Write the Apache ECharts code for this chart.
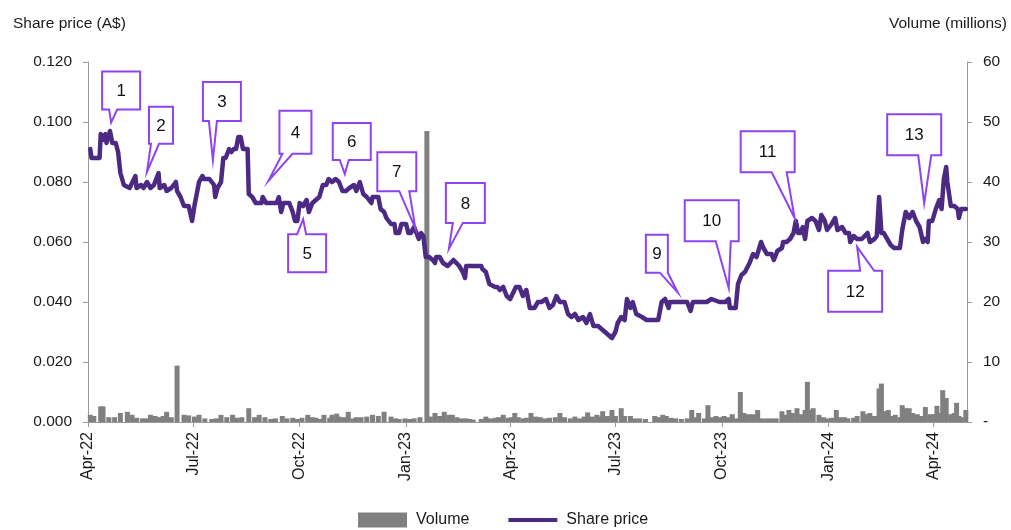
<!DOCTYPE html>
<html>
<head>
<meta charset="utf-8">
<script src="https://cdn.jsdelivr.net/npm/echarts@6/dist/echarts.min.js"></script>
<style>
  html, body { margin: 0; padding: 0; background: #ffffff; }
  #chart { width: 1011px; height: 530px; }
</style>
</head>
<body>
<div id="chart"></div>
<script>
// Trading history; the x axis counts calendar days from 1 Apr 2022

// Closing share price (A$)
const priceDay = [
  2, 3, 10, 11, 13, 15, 16, 19, 21, 24,
  26, 28, 31, 36, 41, 42, 46, 48, 51, 54,
  57, 61, 62, 66, 68, 72, 76, 77, 80, 83,
  87, 90, 92, 93, 96, 99, 100, 105, 109, 110,
  112, 115, 117, 119, 122, 124, 126, 128, 130, 132,
  134, 138, 139, 142, 145, 150, 151, 154, 158, 163,
  165, 167, 169, 174, 177, 179, 181, 183, 186, 189,
  191, 194, 197, 200, 203, 206, 208, 211, 214, 217,
  220, 223, 226, 230, 232, 235, 238, 241, 245, 246,
  251, 253, 256, 258, 262, 265, 266, 269, 271, 275,
  277, 279, 282, 284, 286, 288, 290, 292, 295, 298,
  300, 301, 304, 307, 311, 316, 317, 321, 324, 326,
  327, 331, 340, 341, 344, 347, 352, 354, 356, 359,
  362, 365, 370, 373, 376, 379, 382, 386, 389, 392,
  396, 399, 402, 405, 408, 412, 415, 418, 421, 424,
  428, 431, 434, 437, 441, 444, 447, 450, 453, 456,
  458, 461, 464, 466, 469, 471, 474, 479, 483, 493,
  496, 499, 502, 503, 506, 510, 515, 518, 521, 523,
  529, 535, 539, 546, 551, 554, 555, 560, 562, 565,
  568, 572, 575, 578, 582, 584, 587, 591, 593, 596,
  600, 601, 604, 607, 610, 612, 614, 616, 618, 620,
  622, 626, 629, 632, 634, 637, 639, 643, 646, 648,
  652, 655, 658, 659, 662, 665, 669, 674, 676, 680,
  682, 684, 686, 688, 691, 694, 697, 702, 704, 707,
  710, 713, 716, 719, 722, 724, 726, 727, 730, 733,
  736, 738, 740, 742, 743, 746, 749, 752, 753, 755,
  759
];
const priceValue = [
  0.091, 0.088, 0.088, 0.096, 0.094, 0.096, 0.093, 0.097, 0.093, 0.093,
  0.090, 0.083, 0.079, 0.078, 0.082, 0.078, 0.079, 0.078, 0.080, 0.078,
  0.079, 0.083, 0.078, 0.079, 0.077, 0.078, 0.080, 0.077, 0.075, 0.072,
  0.072, 0.067, 0.072, 0.072, 0.080, 0.082, 0.081, 0.081, 0.079, 0.075,
  0.078, 0.080, 0.088, 0.088, 0.091, 0.090, 0.091, 0.091, 0.095, 0.095,
  0.091, 0.091, 0.076, 0.075, 0.073, 0.073, 0.075, 0.073, 0.073, 0.073,
  0.075, 0.070, 0.073, 0.073, 0.070, 0.067, 0.067, 0.073, 0.072, 0.074,
  0.070, 0.073, 0.074, 0.075, 0.079, 0.079, 0.081, 0.080, 0.081, 0.080,
  0.077, 0.077, 0.078, 0.079, 0.077, 0.080, 0.076, 0.075, 0.073, 0.075,
  0.075, 0.071, 0.070, 0.068, 0.066, 0.066, 0.063, 0.063, 0.066, 0.066,
  0.063, 0.063, 0.065, 0.063, 0.061, 0.063, 0.062, 0.055, 0.055, 0.054,
  0.053, 0.055, 0.055, 0.053, 0.052, 0.054, 0.054, 0.052, 0.050, 0.048,
  0.052, 0.052, 0.052, 0.051, 0.050, 0.046, 0.045, 0.045, 0.044, 0.045,
  0.042, 0.041, 0.045, 0.045, 0.042, 0.044, 0.038, 0.038, 0.040, 0.040,
  0.041, 0.038, 0.039, 0.042, 0.040, 0.040, 0.036, 0.035, 0.036, 0.034,
  0.035, 0.033, 0.036, 0.032, 0.032, 0.031, 0.030, 0.029, 0.028, 0.030,
  0.033, 0.035, 0.034, 0.041, 0.038, 0.040, 0.036, 0.035, 0.034, 0.034,
  0.040, 0.041, 0.038, 0.040, 0.040, 0.040, 0.040, 0.040, 0.037, 0.040,
  0.040, 0.040, 0.041, 0.040, 0.040, 0.041, 0.038, 0.038, 0.046, 0.049,
  0.050, 0.053, 0.056, 0.055, 0.060, 0.058, 0.056, 0.056, 0.054, 0.057,
  0.058, 0.060, 0.060, 0.061, 0.063, 0.067, 0.063, 0.063, 0.065, 0.061,
  0.067, 0.068, 0.067, 0.064, 0.069, 0.067, 0.064, 0.066, 0.068, 0.064,
  0.065, 0.063, 0.063, 0.060, 0.062, 0.061, 0.061, 0.063, 0.060, 0.061,
  0.062, 0.075, 0.063, 0.063, 0.061, 0.059, 0.058, 0.058, 0.064, 0.070,
  0.068, 0.070, 0.067, 0.065, 0.060, 0.061, 0.060, 0.067, 0.067, 0.071,
  0.074, 0.071, 0.081, 0.085, 0.080, 0.072, 0.072, 0.071, 0.068, 0.071,
  0.071
];

// Daily volume (millions of shares)
const volumeDay = [
  2, 5, 11, 13, 18, 23, 28, 34, 38, 42,
  47, 50, 54, 58, 61, 65, 68, 72, 77, 83,
  87, 92, 96, 101, 107, 111, 115, 120, 125, 129,
  133, 139, 144, 148, 153, 158, 162, 168, 172, 177,
  181, 185, 190, 194, 197, 201, 204, 209, 211, 215,
  217, 221, 225, 229, 232, 236, 241, 246, 251, 256,
  262, 266, 269, 274, 278, 282, 287, 293, 296, 300,
  304, 308, 312, 315, 319, 323, 327, 330, 333, 340,
  344, 348, 352, 355, 359, 363, 366, 369, 372, 376,
  379, 383, 387, 391, 395, 399, 404, 408, 412, 417,
  421, 425, 429, 432, 436, 440, 443, 445, 449, 453,
  456, 461, 464, 469, 473, 477, 482, 490, 494, 497,
  500, 504, 508, 513, 518, 522, 525, 528, 533, 536,
  540, 543, 546, 550, 553, 557, 560, 564, 567, 571,
  575, 579, 583, 587, 591, 595, 600, 603, 606, 609,
  613, 617, 620, 622, 624, 627, 632, 636, 640, 643,
  647, 650, 654, 657, 662, 665, 670, 673, 676, 680,
  684, 686, 688, 692, 695, 698, 702, 704, 707, 710,
  713, 717, 720, 724, 728, 731, 734, 737, 739, 742,
  746, 749, 751, 753, 755, 759
];
const volumeValue = [
  1.2, 1.0, 2.6, 2.6, 0.8, 0.8, 1.5, 1.7, 1.2, 0.7,
  0.6, 0.6, 1.2, 1.0, 0.8, 1.0, 1.7, 0.8, 9.4, 1.2,
  1.1, 0.9, 1.2, 0.6, 0.5, 0.6, 1.2, 0.8, 1.2, 0.7,
  0.8, 2.3, 0.8, 1.2, 0.8, 0.5, 0.6, 1.0, 0.6, 0.7,
  0.5, 0.7, 1.2, 0.8, 0.7, 0.5, 1.2, 0.7, 1.2, 1.4,
  0.9, 0.8, 1.7, 0.6, 0.8, 0.8, 0.9, 1.2, 1.0, 1.7,
  0.9, 0.6, 0.5, 0.6, 0.5, 0.6, 0.8, 48.5, 0.9, 1.5,
  1.0, 1.7, 1.2, 1.2, 0.8, 0.6, 0.6, 0.5, 0.4, 0.5,
  0.9, 0.6, 0.7, 0.8, 1.2, 0.7, 0.8, 1.5, 0.8, 0.6,
  0.7, 1.5, 0.9, 0.8, 0.6, 0.7, 0.8, 1.5, 0.8, 0.6,
  0.9, 0.6, 0.9, 1.6, 0.9, 1.2, 0.9, 1.8, 1.0, 2.0,
  1.0, 2.3, 1.0, 1.0, 0.6, 0.6, 0.5, 1.0, 0.8, 1.2,
  1.0, 0.7, 0.6, 0.5, 0.6, 2.0, 0.8, 1.5, 0.6, 2.8,
  0.8, 1.0, 0.8, 1.0, 0.8, 1.3, 0.6, 5.0, 1.5, 1.3,
  1.3, 2.0, 0.6, 0.6, 0.6, 0.6, 1.8, 1.2, 2.0, 1.5,
  2.3, 1.3, 2.0, 6.7, 2.0, 2.3, 1.2, 0.8, 0.6, 0.7,
  2.0, 0.8, 0.8, 0.6, 0.7, 1.0, 1.8, 1.3, 1.5, 1.0,
  5.6, 6.4, 1.8, 2.0, 1.0, 1.2, 0.8, 2.8, 2.3, 2.3,
  1.5, 1.3, 1.0, 2.5, 1.3, 1.3, 2.7, 1.5, 5.3, 4.0,
  1.3, 1.5, 3.2, 1.0, 0.8, 2.0
];

// Numbered announcement markers and the point each one refers to
const calloutLabel = ['1', '2', '3', '4', '5', '6', '7', '8', '9', '10', '11', '12', '13'];
const calloutDay = [20, 51, 108, 156, 186, 222, 283, 312, 510, 554, 611, 665, 723];
const calloutPrice = [0.0998, 0.0834, 0.0873, 0.0804, 0.0676, 0.0827, 0.0646, 0.0577, 0.0431, 0.0446, 0.0679, 0.0584, 0.0729];

// Quarterly axis ticks (day offsets of the first of each quarter)
const tickDay = [0, 91, 183, 275, 365, 456, 548, 640, 731];
const tickLabels = ['Apr-22', 'Jul-22', 'Oct-22', 'Jan-23', 'Apr-23', 'Jul-23', 'Oct-23', 'Jan-24', 'Apr-24'];
const axisEndDay = 760;

const priceTicks = [0, 0.02, 0.04, 0.06, 0.08, 0.10, 0.12];
const volumeTicks = [0, 10, 20, 30, 40, 50, 60];

// Box geometry of each callout relative to its pointer tip, in px:
// [left, top, right, bottom, tailStart, tailEnd]
const calloutBox = [
  [-9, -51, 29, -13, -2, 6],
  [2, -65, 26, -28, 4, 12],
  [-10, -78, 28, -39, -4, 4],
  [11, -70, 43, -27, 14, 24],
  [-15, 15, 23, 53, -6, 3],
  [-12, -51, 26, -14, -5, 4],
  [-38, -76, 1, -37, -16, -6],
  [-3, -66, 36, -26, 4, 14],
  [-32, -58, -10, -20, -18, -10],
  [-44, -88, 10, -47, -13, 2],
  [-54, -87, 0, -46, -23, -8],
  [-29, 24, 25, 65, 3, 17],
  [-37, -89, 17, -48, -6, 7]
];

const FONT = '"Liberation Sans", Arial, sans-serif';
const PRICE_COLOR = '#4c2a83';

const priceData = priceDay.map((d, i) => [d, priceValue[i]]);
const volumeData = volumeDay.map((d, i) => [d, volumeValue[i]]);
const calloutData = calloutDay.map((d, i) => [d, calloutPrice[i]]);

function renderCallout(params, api) {
  const i = params.dataIndex;
  const tip = api.coord([api.value(0), api.value(1)]);
  const [l, t, r, b, a1, a2] = calloutBox[i];
  const tx = tip[0], ty = tip[1];
  const L = tx + l, R = tx + r, T = ty + t, B = ty + b;
  let pts;
  if (b < 0) {
    pts = [[L, T], [R, T], [R, B], [tx + a2, B], [tx, ty], [tx + a1, B], [L, B]];
  } else {
    pts = [[L, T], [tx + a1, T], [tx, ty], [tx + a2, T], [R, T], [R, B], [L, B]];
  }
  return {
    type: 'group',
    children: [
      {
        type: 'polygon',
        shape: { points: pts },
        style: { fill: '#ffffff', stroke: '#8f44f2', lineWidth: 2, lineJoin: 'miter' }
      },
      {
        type: 'text',
        style: {
          text: calloutLabel[i],
          x: (L + R) / 2,
          y: (T + B) / 2 + 1,
          align: 'center',
          verticalAlign: 'middle',
          fontSize: 17,
          fontFamily: FONT,
          fill: '#111111'
        }
      }
    ]
  };
}

const chart = echarts.init(document.getElementById('chart'), null, { renderer: 'canvas' });

const axisGray = '#9a9a9a';

chart.setOption({
  animation: false,
  backgroundColor: '#ffffff',
  textStyle: { fontFamily: FONT },
  grid: { left: 88, right: 44, top: 62, bottom: 108, containLabel: false },
  graphic: [
    {
      type: 'text', left: 13, top: 16,
      style: { text: 'Share price (A$)', fontSize: 15.5, fontFamily: FONT, fill: '#1a1a1a' }
    },
    {
      type: 'text', right: 4, top: 16,
      style: { text: 'Volume (millions)', fontSize: 15.5, fontFamily: FONT, fill: '#1a1a1a' }
    }
  ],
  legend: {
    left: 358,
    top: 512,
    padding: 0,
    itemWidth: 49,
    itemHeight: 15,
    itemGap: 39,
    symbolKeepAspect: true,
    textStyle: { fontSize: 16, fontFamily: FONT, color: '#1a1a1a', padding: [0, 0, 0, 4] },
    data: [
      { name: 'Volume', icon: 'rect' },
      // a flat bar the width of the key, standing in for the price line
      { name: 'Share price', icon: 'path://M0,0L48,0L48,4L0,4Z' }
    ]
  },
  xAxis: {
    type: 'value',
    min: 0,
    max: axisEndDay,
    axisLine: { show: true, onZero: false, lineStyle: { color: axisGray, width: 1 } },
    axisTick: { show: true, length: 5, lineStyle: { color: axisGray }, customValues: tickDay },
    splitLine: { show: false },
    axisLabel: {
      customValues: tickDay,
      rotate: 90,
      margin: 10,
      fontSize: 16,
      fontFamily: FONT,
      color: '#1a1a1a',
      formatter: v => {
        const k = tickDay.indexOf(v);
        return k >= 0 ? tickLabels[k] : '';
      }
    }
  },
  yAxis: [
    {
      type: 'value',
      min: priceTicks[0],
      max: priceTicks[priceTicks.length - 1],
      interval: 0.02,
      axisLine: { show: true, lineStyle: { color: axisGray } },
      axisTick: { show: true, length: 5, lineStyle: { color: axisGray } },
      splitLine: { show: false },
      axisLabel: {
        margin: 16, fontSize: 15.5, fontFamily: FONT, color: '#1a1a1a',
        formatter: v => v.toFixed(3)
      }
    },
    {
      type: 'value',
      min: volumeTicks[0],
      max: volumeTicks[volumeTicks.length - 1],
      interval: 10,
      position: 'right',
      axisLine: { show: true, lineStyle: { color: axisGray } },
      axisTick: { show: true, length: 5, lineStyle: { color: axisGray } },
      splitLine: { show: false },
      axisLabel: {
        margin: 16, fontSize: 15.5, fontFamily: FONT, color: '#1a1a1a',
        formatter: v => (v === 0 ? '-' : String(v))
      }
    }
  ],
  series: [
    {
      name: 'Volume',
      type: 'bar',
      yAxisIndex: 1,
      data: volumeData,
      barWidth: 5,
      itemStyle: { color: '#808080' },
      z: 1
    },
    {
      name: 'Share price',
      type: 'line',
      yAxisIndex: 0,
      data: priceData,
      symbol: 'none',
      showSymbol: false,
      lineStyle: { color: PRICE_COLOR, width: 4.5, join: 'round', cap: 'round' },
      itemStyle: { color: PRICE_COLOR },
      z: 3
    },
    {
      name: 'callouts',
      type: 'custom',
      yAxisIndex: 0,
      data: calloutData,
      encode: { x: 0, y: 1 },
      renderItem: renderCallout,
      clip: false,
      silent: true,
      z: 5
    }
  ]
});
</script>
</body>
</html>
